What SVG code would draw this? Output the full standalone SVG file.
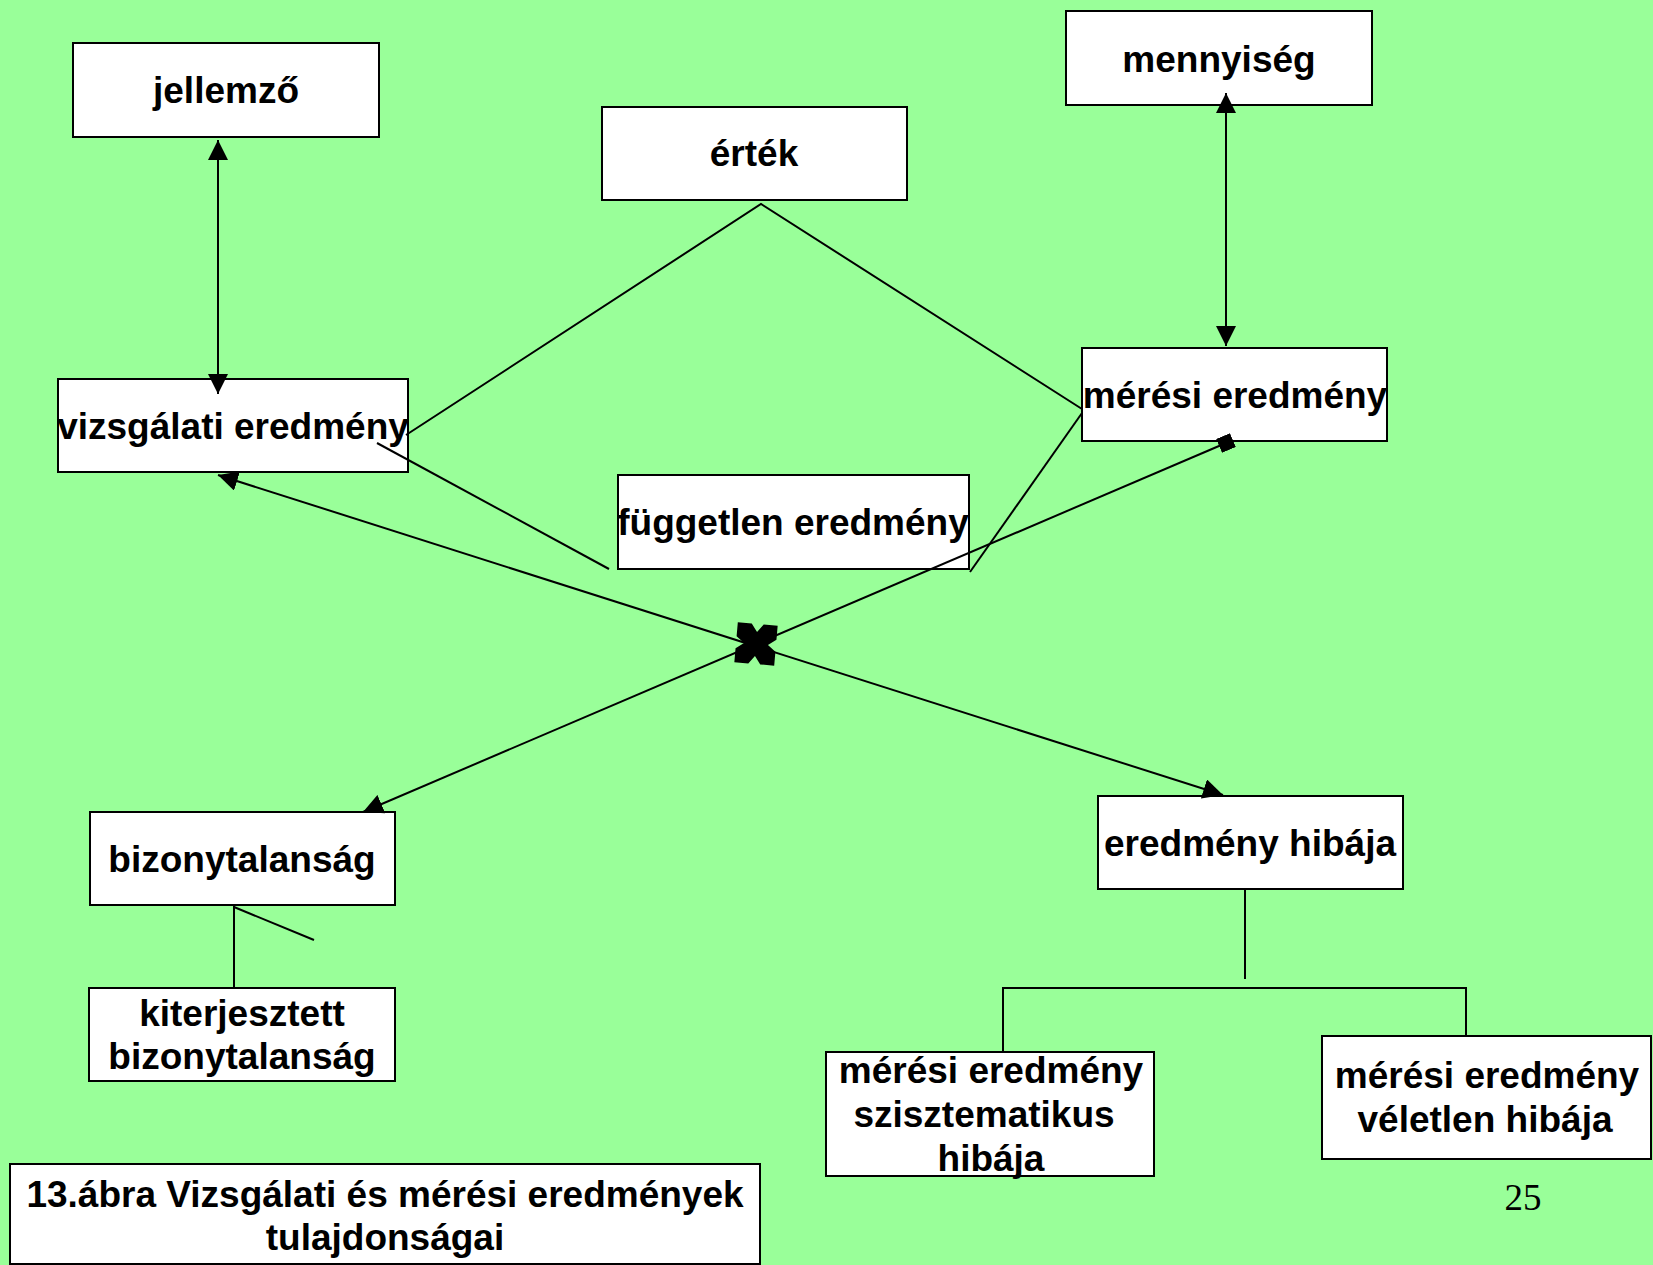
<svg xmlns="http://www.w3.org/2000/svg" width="1653" height="1265" viewBox="0 0 1653 1265">
  <style>
    .box { fill: #ffffff; stroke: #000000; stroke-width: 2; }
    .lbl { font-family: "Liberation Sans", Arial, sans-serif; font-weight: bold; font-size: 37px; fill: #000000; text-anchor: middle; }
    .ln { stroke: #000000; stroke-width: 2; fill: none; }
    .pg { font-family: "Liberation Serif", "Times New Roman", serif; font-size: 37px; fill: #000000; text-anchor: middle; }
  </style>
  <defs>
    <marker id="arrow" markerUnits="userSpaceOnUse" markerWidth="20" markerHeight="20" refX="20" refY="10" orient="auto-start-reverse" viewBox="0 0 20 20">
      <path d="M0,0 L20,10 L0,20 z" fill="#000000"/>
    </marker>
    <marker id="square" markerUnits="userSpaceOnUse" markerWidth="15" markerHeight="15" refX="7.5" refY="7.5" orient="auto" viewBox="0 0 15 15">
      <rect x="0" y="0" width="15" height="15" fill="#000000"/>
    </marker>
  </defs>

  <rect x="0" y="0" width="1653" height="1265" fill="#99ff99"/>

  <g id="jellemzo">
    <rect class="box" x="73" y="43" width="306" height="94"/>
    <text class="lbl" x="226" y="103">jellemző</text>
  </g>
  <g id="mennyiseg">
    <rect class="box" x="1066" y="11" width="306" height="94"/>
    <text class="lbl" x="1219" y="72">mennyiség</text>
  </g>
  <g id="ertek">
    <rect class="box" x="602" y="107" width="305" height="93"/>
    <text class="lbl" x="754" y="166">érték</text>
  </g>
  <g id="vizsgalati-eredmeny">
    <rect class="box" x="58" y="379" width="350" height="93"/>
    <text class="lbl" x="233" y="439">vizsgálati eredmény</text>
  </g>
  <g id="meresi-eredmeny">
    <rect class="box" x="1082" y="348" width="305" height="93"/>
    <text class="lbl" x="1235" y="408">mérési eredmény</text>
  </g>
  <g id="fuggetlen-eredmeny">
    <rect class="box" x="618" y="475" width="351" height="94"/>
    <text class="lbl" x="793" y="535">független eredmény</text>
  </g>
  <g id="bizonytalansag">
    <rect class="box" x="90" y="812" width="305" height="93"/>
    <text class="lbl" x="242" y="872">bizonytalanság</text>
  </g>
  <g id="eredmeny-hibaja">
    <rect class="box" x="1098" y="796" width="305" height="93"/>
    <text class="lbl" x="1250" y="856">eredmény hibája</text>
  </g>
  <g id="kiterjesztett-bizonytalansag">
    <rect class="box" x="89" y="988" width="306" height="93"/>
    <text class="lbl" x="242" y="1026">kiterjesztett</text>
    <text class="lbl" x="242" y="1069">bizonytalanság</text>
  </g>
  <g id="szisztematikus-hiba">
    <rect class="box" x="826" y="1052" width="328" height="124"/>
    <text class="lbl" x="991" y="1083">mérési eredmény</text>
    <text class="lbl" x="984" y="1127">szisztematikus</text>
    <text class="lbl" x="991" y="1171">hibája</text>
  </g>
  <g id="veletlen-hiba">
    <rect class="box" x="1322" y="1036" width="329" height="123"/>
    <text class="lbl" x="1487" y="1088">mérési eredmény</text>
    <text class="lbl" x="1485" y="1132">véletlen hibája</text>
  </g>
  <g id="caption">
    <rect class="box" x="10" y="1164" width="750" height="100"/>
    <text class="lbl" x="385" y="1207">13.ábra Vizsgálati és mérési eredmények</text>
    <text class="lbl" x="385" y="1250">tulajdonságai</text>
  </g>
  <text class="pg" x="1523" y="1210">25</text>

  <!-- connectors, drawn over the boxes -->
  <g id="connectors">
    <line class="ln" x1="218" y1="140" x2="218" y2="394" marker-start="url(#arrow)" marker-end="url(#arrow)"/>
    <line class="ln" x1="1226" y1="93" x2="1226" y2="346" marker-start="url(#arrow)" marker-end="url(#arrow)"/>
    <polyline class="ln" points="406,435 761,204 1082,409"/>
    <line class="ln" x1="377" y1="443" x2="609" y2="569"/>
    <line class="ln" x1="1082" y1="413" x2="970" y2="572"/>
    <line class="ln" x1="218" y1="475" x2="1223" y2="795" marker-start="url(#arrow)" marker-end="url(#arrow)"/>
    <line class="ln" x1="363" y1="812" x2="1226" y2="443" marker-start="url(#arrow)" marker-end="url(#square)"/>
    <!-- crossing marker: block with notched sides -->
    <polygon transform="translate(756,644) rotate(5)" fill="#000000"
      points="-20,-20 -6,-20 0,-12 6,-20 20,-20 20,-6 12,0 20,6 20,20 6,20 0,12 -6,20 -20,20 -20,6 -12,0 -20,-6"/>
    <line class="ln" x1="234" y1="905" x2="234" y2="988"/>
    <line class="ln" x1="234" y1="907" x2="314" y2="940"/>
    <line class="ln" x1="1245" y1="889" x2="1245" y2="979"/>
    <polyline class="ln" points="1003,1052 1003,988 1466,988 1466,1036"/>
  </g>
</svg>
